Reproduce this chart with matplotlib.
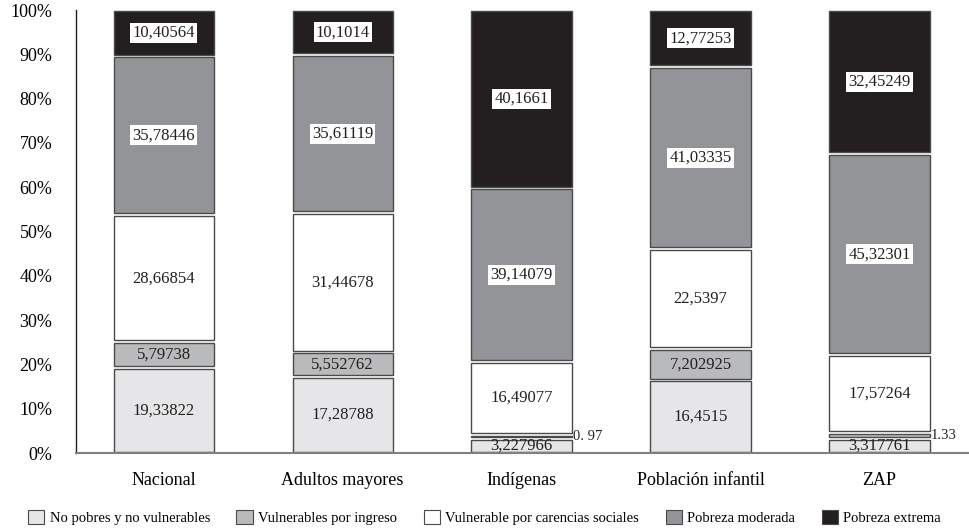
import numpy as np
from matplotlib import pyplot as plt
from matplotlib.patches import Patch

plt.rcParams['font.family'] = ['Liberation Serif', 'DejaVu Serif']

# Data (percent of each population group)
categories = ['Nacional', 'Adultos mayores', 'Indígenas', 'Población infantil', 'ZAP']
series_names = ['No pobres y no vulnerables', 'Vulnerables por ingreso',
                'Vulnerable por carencias sociales', 'Pobreza moderada', 'Pobreza extrema']
no_pobres = [19.33822, 17.28788, 3.227966, 16.4515, 3.317761]
vuln_ingreso = [5.79738, 5.552762, 0.97, 7.202925, 1.33]
vuln_carencias = [28.66854, 31.44678, 16.49077, 22.5397, 17.57264]
pobreza_moderada = [35.78446, 35.61119, 39.14079, 41.03335, 45.32301]
pobreza_extrema = [10.40564, 10.1014, 40.1661, 12.77253, 32.45249]

# Labels as printed in the source
lbl_no_pobres = ['19,33822', '17,28788', '3,227966', '16,4515', '3,317761']
lbl_vuln_ingreso = ['5,79738', '5,552762', '0. 97', '7,202925', '1.33']
lbl_vuln_carencias = ['28,66854', '31,44678', '16,49077', '22,5397', '17,57264']
lbl_moderada = ['35,78446', '35,61119', '39,14079', '41,03335', '45,32301']
lbl_extrema = ['10,40564', '10,1014', '40,1661', '12,77253', '32,45249']
yticks = [0, 10, 20, 30, 40, 50, 60, 70, 80, 90, 100]

series = [no_pobres, vuln_ingreso, vuln_carencias, pobreza_moderada, pobreza_extrema]
labels = [lbl_no_pobres, lbl_vuln_ingreso, lbl_vuln_carencias, lbl_moderada, lbl_extrema]
colors = ['#e6e6e8', '#b9babc', '#ffffff', '#939497', '#231f20']
boxed = [False, False, False, True, True]

fig = plt.figure(figsize=(9.69, 5.28), dpi=100)
ax = fig.add_axes([0.0784, 0.142, 0.9216, 0.839])

x = np.arange(len(categories))
width = 0.56
gap = 0.6
edge = '#4a4a4a'

bottom = np.zeros(len(categories))
for k, vals in enumerate(series):
    vals = np.array(vals)
    ax.bar(x, vals - gap, width, bottom=bottom + gap / 2, color=colors[k],
           edgecolor=edge, linewidth=1.0, zorder=2)
    for i in range(len(categories)):
        mid = bottom[i] + vals[i] / 2
        txt = labels[k][i]
        if vals[i] < 2:
            # tiny segment: label goes to the right of the bar
            ax.text(x[i] + width / 2 + 0.005, mid, txt, ha='left', va='center',
                    fontsize=10.5, color='#231f20', zorder=4)
        elif boxed[k]:
            ax.text(x[i], mid, txt, ha='center', va='center', fontsize=12,
                    color='#231f20', zorder=4,
                    bbox=dict(boxstyle='square,pad=0.12', fc='white', ec='none'))
        else:
            ax.text(x[i], mid, txt, ha='center', va='center', fontsize=12,
                    color='#231f20', zorder=4)
    bottom += vals

ax.set_xlim(-0.49, 4.5)
ax.set_ylim(0, 100)
ax.set_yticks(yticks)
ax.set_yticklabels([f'{t}%' for t in yticks], fontsize=13)
ax.set_xticks(x)
ax.set_xticklabels(categories, fontsize=13)
ax.tick_params(axis='y', length=0, pad=17)
ax.tick_params(axis='x', length=0, pad=14)

for s in ['top', 'right']:
    ax.spines[s].set_visible(False)
ax.spines['left'].set_color('#231f20')
ax.spines['left'].set_linewidth(1.0)
ax.spines['bottom'].set_color('#808080')
ax.spines['bottom'].set_linewidth(1.5)

handles = [Patch(facecolor=c, edgecolor=edge, linewidth=0.8) for c in colors]
fig.legend(handles, series_names, loc='center', bbox_to_anchor=(0.5, 0.02),
           ncol=5, frameon=False, fontsize=10.5, handlelength=1.1,
           handleheight=1.1, handletextpad=0.4, columnspacing=1.8)

fig.savefig('out.png', dpi=100)
